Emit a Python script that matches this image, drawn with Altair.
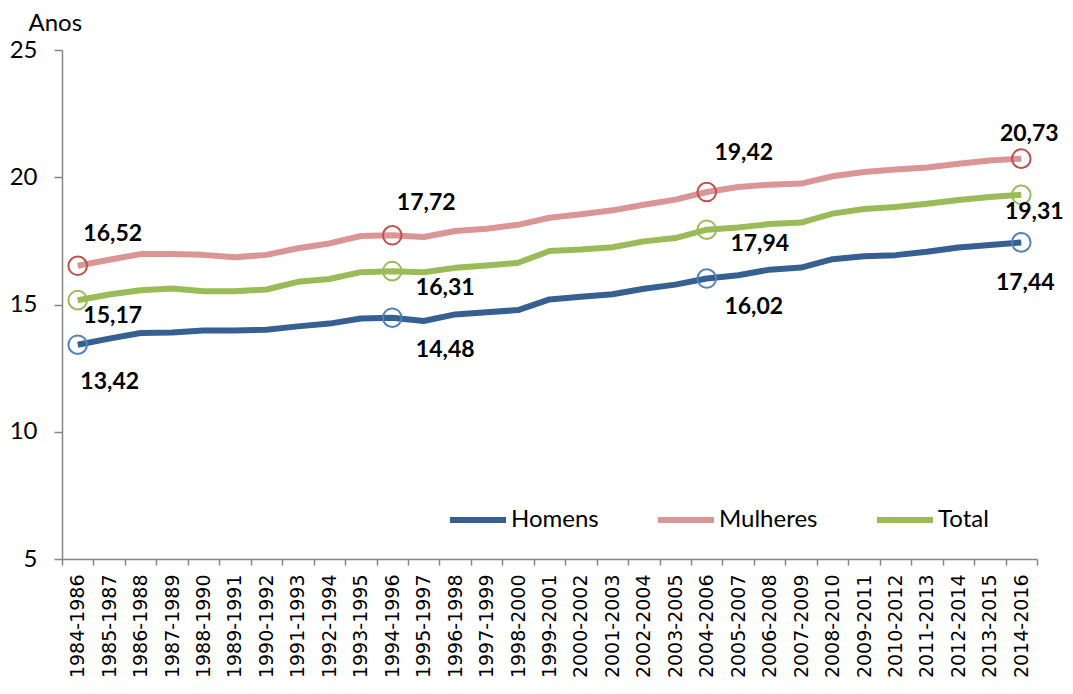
import json
import altair as alt
import pandas as pd

PERIODS = [
    "1984-1986", "1985-1987", "1986-1988", "1987-1989", "1988-1990", "1989-1991",
    "1990-1992", "1991-1993", "1992-1994", "1993-1995", "1994-1996", "1995-1997",
    "1996-1998", "1997-1999", "1998-2000", "1999-2001", "2000-2002", "2001-2003",
    "2002-2004", "2003-2005", "2004-2006", "2005-2007", "2006-2008", "2007-2009",
    "2008-2010", "2009-2011", "2010-2012", "2011-2013", "2012-2014", "2013-2015",
    "2014-2016",
]

HOMENS = [13.42, 13.66, 13.88, 13.90, 13.98, 13.98, 14.01, 14.14, 14.25, 14.45, 14.48,
          14.35, 14.61, 14.70, 14.78, 15.20, 15.30, 15.40, 15.62, 15.78, 16.02,
          16.15, 16.37, 16.45, 16.78, 16.90, 16.94, 17.07, 17.24, 17.34, 17.44]
MULHERES = [16.52, 16.76, 16.98, 16.98, 16.95, 16.86, 16.95, 17.21, 17.40, 17.69, 17.72,
            17.65, 17.89, 17.98, 18.13, 18.41, 18.55, 18.70, 18.92, 19.12, 19.42,
            19.62, 19.71, 19.75, 20.04, 20.21, 20.30, 20.38, 20.53, 20.66, 20.73]
TOTAL = [15.17, 15.39, 15.56, 15.63, 15.52, 15.52, 15.59, 15.89, 16.00, 16.27, 16.31,
         16.27, 16.44, 16.53, 16.64, 17.10, 17.16, 17.25, 17.48, 17.61, 17.94,
         18.03, 18.16, 18.22, 18.57, 18.75, 18.83, 18.96, 19.11, 19.22, 19.31]

SERIES = ["Homens", "Mulheres", "Total"]
MARKER_IDX = [0, 10, 20, 30]
Y_TICKS = [5, 10, 15, 20, 25]

LINE_COLORS = ["#376092", "#D99694", "#9BBB59"]
MARKER_COLORS = ["#4F81BD", "#C0504D", "#9BBB59"]

# label offsets (dx, dy) in pixels, relative to the marker
LABEL_OFFSETS = {
    ("Mulheres", 0): (35, -33), ("Mulheres", 10): (34, -33),
    ("Mulheres", 20): (37, -40), ("Mulheres", 30): (8, -26),
    ("Total", 0): (35, 15), ("Total", 10): (53, 16),
    ("Total", 20): (53, 13), ("Total", 30): (13, 16),
    ("Homens", 0): (32, 36), ("Homens", 10): (53, 31),
    ("Homens", 20): (47, 27), ("Homens", 30): (4, 40),
}

rows = []
for s, vals in zip(SERIES, [HOMENS, MULHERES, TOTAL]):
    for i, (p, v) in enumerate(zip(PERIODS, vals)):
        rows.append({"serie": s, "idx": i, "pos": i + 0.5, "periodo": p, "valor": v})
df = pd.DataFrame(rows)

AXIS_GRAY = "#868686"
x_vals = [k / 2 for k in range(0, 2 * len(PERIODS) + 1)]
label_expr = "datum.value % 1 === 0 ? '' : " + json.dumps(PERIODS) + "[floor(datum.value)]"

x_enc = alt.X(
    "pos:Q",
    scale=alt.Scale(domain=[0, len(PERIODS)], nice=False, zero=False),
    axis=alt.Axis(
        values=x_vals, labelExpr=label_expr, labelAngle=270,
        labelFont="DejaVu Sans", labelFontSize=19, labelColor="black",
        labelOverlap=False, labelFlush=False, labelBound=False, labelPadding=9,
        tickSize=6, tickColor=AXIS_GRAY, tickWidth=1.5,
        tickOpacity={"condition": {"test": "datum.value % 1 === 0", "value": 1}, "value": 0},
        domainColor=AXIS_GRAY, domainWidth=1.5, grid=False, title=None,
    ),
)
y_enc = alt.Y(
    "valor:Q",
    scale=alt.Scale(domain=[5, 25], nice=False, zero=False),
    axis=alt.Axis(
        values=Y_TICKS, labelFont="Lato", labelFontSize=24, labelColor="black",
        labelPadding=17, tickSize=8, tickColor=AXIS_GRAY, tickWidth=1.5,
        domainColor=AXIS_GRAY, domainWidth=1.5, grid=False,
        title="Anos", titleAngle=0, titleAlign="left", titleBaseline="alphabetic",
        titleX=-34, titleY=-20, titleFont="Lato", titleFontSize=24,
        titleFontWeight="normal", titleColor="black",
    ),
)

base = alt.Chart(df)

lines = base.mark_line(strokeWidth=6, strokeJoin="round").encode(
    x=x_enc, y=y_enc,
    color=alt.Color(
        "serie:N",
        scale=alt.Scale(domain=SERIES, range=LINE_COLORS),
        legend=alt.Legend(
            title=None, orient="none", legendX=385, legendY=439,
            direction="horizontal", symbolType="stroke", symbolSize=3136,
            symbolStrokeWidth=6, labelFont="Lato", labelFontSize=24,
            labelColor="black", labelOffset=2, columnPadding=47, padding=0,
        ),
    ),
)

markers = base.transform_filter(
    alt.FieldOneOfPredicate(field="idx", oneOf=MARKER_IDX)
).mark_point(shape="circle", filled=False, size=346, strokeWidth=2, opacity=1).encode(
    x=x_enc, y=y_enc,
    stroke=alt.Stroke("serie:N", scale=alt.Scale(domain=SERIES, range=MARKER_COLORS), legend=None),
)

layers = [lines, markers]
for (s, i), (dx, dy) in LABEL_OFFSETS.items():
    t = base.transform_filter(
        (alt.datum.serie == s) & (alt.datum.idx == i)
    ).transform_calculate(
        rotulo="replace(format(datum.valor, '.2f'), '.', ',')"
    ).mark_text(
        dx=dx, dy=dy + 8, align="center", baseline="alphabetic",
        font="Lato", fontSize=23, fontWeight="bold", color="black",
    ).encode(x=x_enc, y=y_enc, text="rotulo:N")
    layers.append(t)

chart = alt.layer(*layers).properties(
    width=975, height=509,
    padding={"left": 54, "top": 42, "right": 28, "bottom": 121},
    autosize=alt.AutoSizeParams(type="none"),
    background="white",
).configure_view(stroke=None)

chart.save("out.html", embed_options={"renderer": "svg", "actions": False})
